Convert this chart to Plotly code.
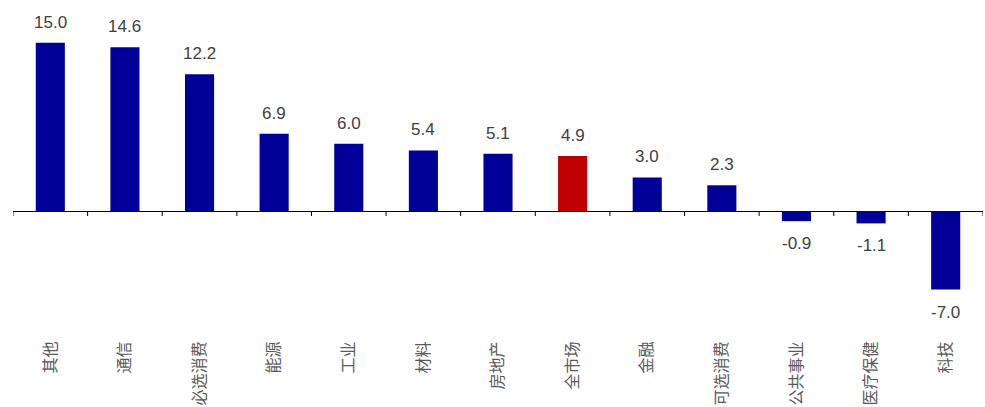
import plotly.graph_objects as go

categories = ["其他", "通信", "必选消费", "能源", "工业", "材料", "房地产", "全市场", "金融", "可选消费", "公共事业", "医疗保健", "科技"]
values = [15.0, 14.6, 12.2, 6.9, 6.0, 5.4, 5.1, 4.9, 3.0, 2.3, -0.9, -1.1, -7.0]
highlight = "全市场"

BLUE = "#000099"
RED = "#C00000"
colors = [RED if c == highlight else BLUE for c in categories]

fig = go.Figure()
fig.add_trace(go.Bar(
    x=list(range(len(categories))), y=values,
    marker=dict(color=colors, line=dict(width=0)),
    hoverinfo="skip",
))

# value labels
for i, v in enumerate(values):
    fig.add_annotation(
        x=i, y=v, text=f"{v:.1f}", showarrow=False,
        yanchor="bottom" if v >= 0 else "top",
        yshift=9 if v >= 0 else -11,
        font=dict(family="Liberation Sans, Arial", size=17, color="#404040"),
    )

# tick marks on the zero line at category boundaries
for k in range(len(categories) + 1):
    fig.add_shape(
        type="line", xref="x", yref="y",
        x0=k - 0.5, x1=k - 0.5, y0=0, y1=-5,
        ysizemode="pixel", yanchor=0,
        line=dict(color="black", width=1),
    )

fig.update_layout(
    width=985, height=407,
    margin=dict(l=13, r=2, t=8, b=77),
    plot_bgcolor="white", paper_bgcolor="white",
    bargap=0.61, showlegend=False,
    xaxis=dict(
        tickmode="array", tickvals=list(range(len(categories))), ticktext=categories,
        tickangle=-90, range=[-0.5, len(categories) - 0.5],
        showline=False, showgrid=False, zeroline=False, ticks="outside",
        ticklen=4, tickcolor="rgba(0,0,0,0)",
        tickfont=dict(family="Noto Sans CJK SC", size=16, color="#595959"),
    ),
    yaxis=dict(
        range=[-10.6, 18.1], showticklabels=False, showgrid=False,
        zeroline=True, zerolinecolor="black", zerolinewidth=1,
        showline=False, ticks="",
    ),
)

fig.write_html("out.html")
